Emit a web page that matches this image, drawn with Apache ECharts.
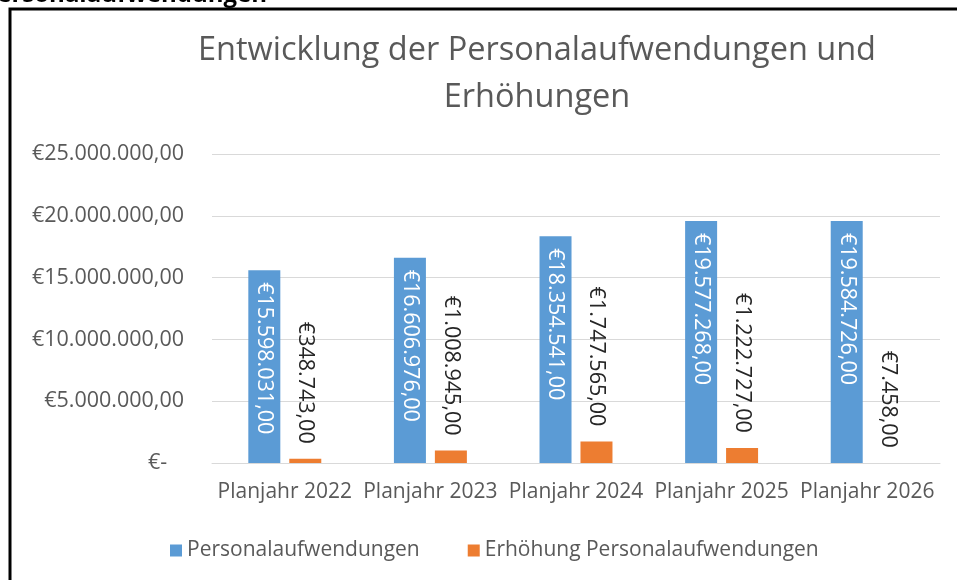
<!DOCTYPE html>
<html>
<head>
<meta charset="utf-8">
<script src="https://cdn.jsdelivr.net/npm/echarts@6/dist/echarts.min.js"></script>
<style>
  html, body { margin: 0; padding: 0; background: #fff; }
  #main { width: 957px; height: 580px; }
</style>
</head>
<body>
<div id="main"></div>
<script>
// Werte aus der Grafik
const categories = ['Planjahr 2022', 'Planjahr 2023', 'Planjahr 2024', 'Planjahr 2025', 'Planjahr 2026']
const personalaufwendungen = [15598031, 16606976, 18354541, 19577268, 19584726]
const erhoehung = [348743, 1008945, 1747565, 1222727, 7458]
const seriesNames = ['Personalaufwendungen', 'Erhöhung Personalaufwendungen']

const FONT = 'Open Sans'
const GREY = '#595959'

function euro(v) {
  if (v === 0) return '€-   '
  const parts = v.toFixed(2).split('.')
  const intPart = parts[0].replace(/\B(?=(\d{3})+(?!\d))/g, '.')
  return '€' + intPart + ',' + parts[1]
}

const chart = echarts.init(document.getElementById('main'))
chart.setOption({
  animation: false,
  textStyle: { fontFamily: FONT },
  title: {
    text: 'Entwicklung der Personalaufwendungen und\nErhöhungen',
    left: 532,
    top: 22,
    textAlign: 'center',
    textStyle: { fontFamily: FONT, fontSize: 32.5, fontWeight: 'normal', color: GREY, lineHeight: 47 }
  },
  graphic: [
    {
      type: 'rect',
      shape: { x: 10, y: 9, width: 1000, height: 700 },
      style: { fill: 'none', stroke: '#000', lineWidth: 3 },
      silent: true
    },
    {
      type: 'text',
      x: 267,
      y: 7,
      style: { text: 'Personalaufwendungen', font: 'bold 24px "Open Sans"', fill: '#000', textAlign: 'right', textVerticalAlign: 'bottom' },
      silent: true
    }
  ],
  legend: {
    data: seriesNames,
    left: 165,
    top: 535,
    itemWidth: 12,
    itemHeight: 12,
    itemGap: 48,
    icon: 'rect',
    textStyle: { fontFamily: FONT, fontSize: 21, color: GREY }
  },
  grid: { left: 212, right: 17, top: 154, bottom: 117, containLabel: false },
  xAxis: {
    type: 'category',
    data: categories,
    axisLine: { lineStyle: { color: '#D9D9D9', width: 1 } },
    axisTick: { show: false },
    axisLabel: { fontFamily: FONT, fontSize: 21, color: GREY, margin: 19, interval: 0 }
  },
  yAxis: {
    type: 'value',
    min: 0,
    max: 25000000,
    interval: 5000000,
    axisLine: { show: false },
    axisTick: { show: false },
    splitLine: { lineStyle: { color: '#D9D9D9', width: 1 } },
    axisLabel: { fontFamily: FONT, fontSize: 21.5, color: GREY, margin: 28, formatter: euro }
  },
  series: [
    {
      name: seriesNames[0],
      type: 'bar',
      data: personalaufwendungen,
      barWidth: 32,
      barGap: '28%',
      itemStyle: { color: '#5B9BD5' },
      label: {
        show: true,
        position: 'insideTop',
        rotate: -90,
        align: 'left',
        verticalAlign: 'middle',
        distance: 12,
        color: '#fff',
        fontFamily: FONT,
        fontSize: 21.5,
        formatter: p => euro(p.value)
      }
    },
    {
      name: seriesNames[1],
      type: 'bar',
      data: erhoehung,
      barWidth: 32,
      itemStyle: { color: '#ED7D31' },
      label: {
        show: true,
        position: 'top',
        rotate: -90,
        align: 'right',
        verticalAlign: 'middle',
        distance: 15,
        color: '#262626',
        fontFamily: FONT,
        fontSize: 21.5,
        formatter: p => euro(p.value)
      }
    }
  ]
})
</script>
</body>
</html>
